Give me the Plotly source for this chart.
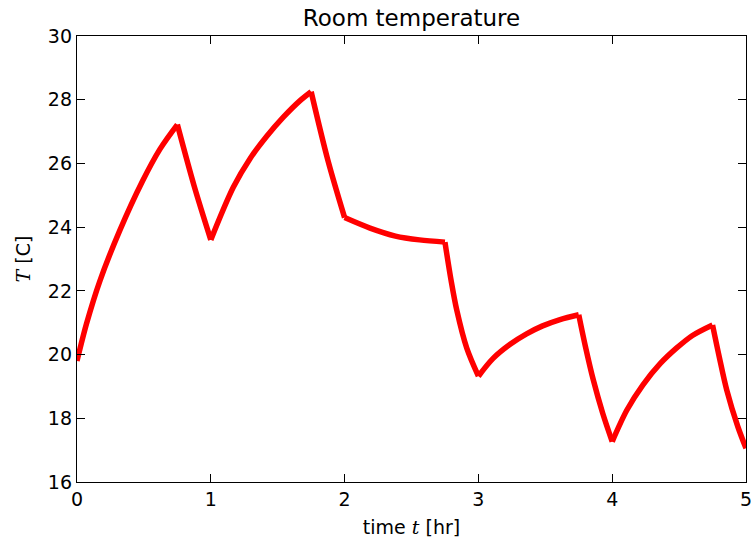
import plotly.graph_objects as go

# Room temperature readings over five hours (heater switching on/off)
time_hr = [
    0.0, 0.072, 0.17, 0.32, 0.49, 0.62, 0.75,
    0.875, 1.0,
    1.168, 1.293, 1.418, 1.542, 1.667, 1.75,
    1.875, 2.0,
    2.19, 2.38, 2.56, 2.75,
    2.797, 2.838, 2.913, 3.0,
    3.11, 3.24, 3.36, 3.48, 3.61, 3.75,
    3.80, 3.859, 3.929, 4.0,
    4.11, 4.23, 4.36, 4.48, 4.6, 4.75,
    4.80, 4.856, 4.938, 5.0,
]
temp_c = [
    19.8, 20.98, 22.3, 23.9, 25.45, 26.45, 27.22,
    25.3, 23.6,
    25.25, 26.15, 26.85, 27.45, 27.97, 28.25,
    26.1, 24.3,
    23.97, 23.72, 23.6, 23.53,
    22.3, 21.4, 20.2, 19.32,
    19.88, 20.33, 20.65, 20.9, 21.1, 21.25,
    20.25, 19.2, 18.16, 17.27,
    18.26, 19.05, 19.72, 20.2, 20.6, 20.93,
    19.93, 18.89, 17.75, 17.06,
]
# times where the heater switches state (sharp corners in the curve)
switch_times = [0.75, 1.0, 1.75, 2.0, 2.75, 3.0, 3.75, 4.0, 4.75]

x_ticks = [0, 1, 2, 3, 4, 5]
y_ticks = [16, 18, 20, 22, 24, 26, 28, 30]

FONT = "DejaVu Sans"
RED = "#ff0000"

fig = go.Figure()

# each heating/cooling stretch is drawn as its own smooth piece,
# so the switch points keep their sharp corners
bounds = [0.0] + switch_times + [5.0]
for a, b in zip(bounds[:-1], bounds[1:]):
    xs = [t for t in time_hr if a <= t <= b]
    ys = [v for t, v in zip(time_hr, temp_c) if a <= t <= b]
    fig.add_trace(
        go.Scatter(
            x=xs,
            y=ys,
            mode="lines",
            line=dict(color=RED, width=5.5, shape="spline", smoothing=0.9),
            hoverinfo="skip",
        )
    )

axis_common = dict(
    showgrid=False,
    zeroline=False,
    showline=True,
    linecolor="black",
    linewidth=1.4,
    mirror="ticks",
    ticks="inside",
    ticklen=8,
    tickwidth=1,
    tickcolor="black",
    automargin=False,
    ticklabeloverflow="allow",
    tickfont=dict(family=FONT, size=19, color="black"),
)

fig.update_layout(
    width=751,
    height=541,
    margin=dict(l=77, r=5, t=36, b=59),
    paper_bgcolor="white",
    plot_bgcolor="white",
    showlegend=False,
    font=dict(family=FONT, color="black"),
    title=dict(
        text="Room temperature",
        font=dict(family=FONT, size=23, color="black"),
        x=0.5,
        xanchor="center",
        xref="paper",
        y=1 - 18 / 541,
        yanchor="middle",
        yref="container",
    ),
    xaxis=dict(
        range=[0, 5],
        tickvals=x_ticks,
        ticktext=[str(v) for v in x_ticks],
        title=dict(
            text='time <span style="font-family:DejaVu Serif"><i>t</i></span> [hr]',
            font=dict(family=FONT, size=19, color="black"),
            standoff=11,
        ),
        **axis_common,
    ),
    yaxis=dict(
        range=[16, 30],
        tickvals=y_ticks,
        ticktext=[str(v) for v in y_ticks],
        title=dict(
            text='<span style="font-family:DejaVu Serif"><i>T</i></span> [C]',
            font=dict(family=FONT, size=19, color="black"),
            standoff=12,
        ),
        **axis_common,
    ),
)

fig.write_html("out.html")
